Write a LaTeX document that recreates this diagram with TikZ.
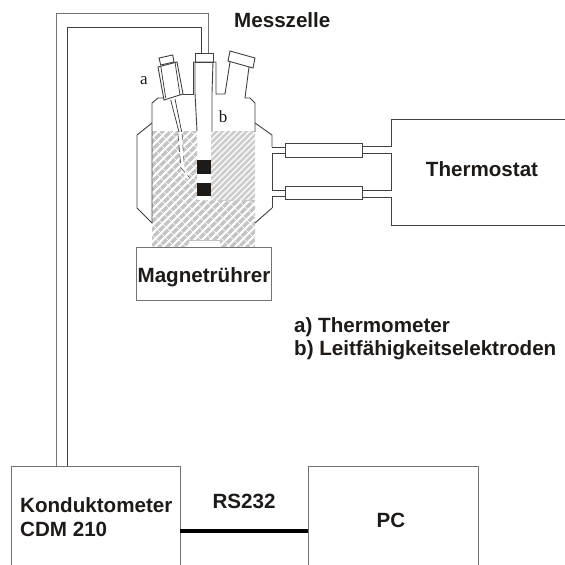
\documentclass[tikz,border=0pt]{standalone}
\usepackage{fontspec}
\setmainfont{Liberation Sans}
\newfontfamily\serifface{Liberation Serif}
\definecolor{ink}{HTML}{1E1A18}
\definecolor{hatchgray}{HTML}{C4C4C4}
\tikzset{
  x=1pt,y=-1pt,
  gl/.style={draw=black!75,line width=0.9pt},
  thin glass/.style={draw=black!80,line width=0.7pt},
  boxline/.style={draw=black!55,line width=1pt},
  lab/.style={font=\bfseries\fontsize{20.6}{24}\selectfont,text=ink,inner sep=0pt,align=left},
  small/.style={font=\serifface\fontsize{17}{20}\selectfont,text=ink,inner sep=0pt},
  tube/.style={draw=black!75,line width=0.9pt,fill=white},
  hatchA/.style={draw=hatchgray,line width=3.2pt},
  hatchB/.style={draw=hatchgray!85,line width=2.8pt},
}
\begin{document}
\begin{tikzpicture}
\useasboundingbox (0,0) rectangle (565,565);
% hatch left and bottom
\begin{scope}
\clip (152,131) rectangle (197,200) (152,200) rectangle (255,247);
\foreach \k in {0,...,34}{\draw[hatchA] (-20+\k*8,290) -- ++(220,-220);}
\foreach \k in {0,...,40}{\draw[white,line width=0.7pt] (-150+\k*11,120) -- ++(150,150);}
\end{scope}
\begin{scope}
\clip (211,131) rectangle (255,200);
\foreach \k in {0,...,24}{\draw[hatchB] (40+\k*6,290) -- ++(220,-220);}
\end{scope}
\fill[white] (189,241) rectangle (220,248);
\draw[draw=hatchgray,line width=0.6pt] (189,240.5) -- (220,240.5);
% vessel body
\draw[gl] (152,223) -- (152,103) -- (158,98) -- (164,98);
\draw[gl] (183,94) -- (193,94) -- (193,62);
\draw[gl] (193,62) -- (216,62) -- (216,94) -- (225,94) -- (230,62);
\draw[gl] (249,67) -- (245,98) -- (250,98) -- (255,103) -- (255,132);
% centre electrode
\draw[gl] (195,53) rectangle (213,62);
\draw[gl] (195,62) -- (195,93) -- (197,131);
\draw[gl] (213,62) -- (212,93) -- (212,131);
% wires
\draw[gl] (201,53) -- (201,27) -- (67,27) -- (67,466);
\draw[boxline] (208,53) -- (208,13.5) -- (56,13.5) -- (56,466);
% neck a
\draw[gl] (159,58) -- (172.7,55) -- (174,62) -- (160.7,65) -- cycle;
\draw[gl] (158,67) -- (177,62) -- (183,94) -- (164,100) -- cycle;
\draw[thin glass] (160.7,66) -- (165.7,98);
\draw[thin glass] (175,62) -- (180,95);
% thermometer
\draw[thin glass] (170.7,100) -- (179,132);
\draw[thin glass] (175,99) -- (181.7,132);
\draw[white,line width=3.5pt] (180,132) -- (183,170) -- (189,178);
\draw[black!70,line width=0.6pt,dash pattern=on 7pt off 4pt] (178,134) -- (181,168) -- (190,178);
\draw[black!70,line width=0.6pt,dash pattern=on 6pt off 5pt] (182,134) -- (184,162);
% neck b
\draw[gl] (230,51) -- (255,58) -- (253,68) -- (228,61) -- cycle;
% jackets
\draw[gl] (152,123) -- (137,135) -- (137,208) -- (152,223);
\draw[gl] (255,123) -- (272,135) -- (272,147);
\draw[gl] (272,208) -- (255,223);
% condenser tubes
\node[tube,inner sep=0pt,minimum width=77pt,minimum height=14pt] (tubeA) at (323.5,150.5) {};
\node[tube,inner sep=0pt,minimum width=77pt,minimum height=13pt] (tubeB) at (323.5,193) {};
\draw[gl] (272,147) -- (285,147);
\draw[gl] (285,153) -- (272,153) -- (272,190) -- (285,190);
\draw[gl] (285,196) -- (272,196) -- (272,208);
% thermostat
\draw[gl] (362,146) -- (391,146) -- (391,119) -- (565,119);
\draw[gl] (362,153) -- (391,153) -- (391,190) -- (362,190);
\draw[gl] (362,197) -- (391,197) -- (391,225) -- (565,225);
% stirring bars
\fill[ink] (197,160) rectangle (211,174);
\fill[ink] (197,183) rectangle (211,196);
% boxes
\node[boxline,fill=white,minimum width=135pt,minimum height=53pt,inner sep=0pt] (ruehrer) at (203.5,273.5) {};
\node[lab] at (204,277) {Magnetrührer};
\draw[boxline] (11,565) -- (11,466) -- (180,466) -- (180,565);
\draw[boxline] (308,565) -- (308,466) -- (478,466) -- (478,565);
\draw[black,line width=3.2pt] (180,531) -- (308,531);
% labels
\node[lab,anchor=west] at (234,20) {Messzelle};
\node[lab] at (482,169) {Thermostat};
\node[lab,anchor=west] at (294,327) {a) Thermometer};
\node[lab,anchor=west] at (294,350) {b) Leitfähigkeitselektroden};
\node[lab,anchor=west] at (20,505) {Konduktometer};
\node[lab,anchor=west] at (20,529) {CDM 210};
\node[lab] at (244,501) {RS232};
\node[lab] at (391,520) {PC};
\node[small] at (144,81) {a};
\node[small] at (223,117) {b};
\end{tikzpicture}
\end{document}
